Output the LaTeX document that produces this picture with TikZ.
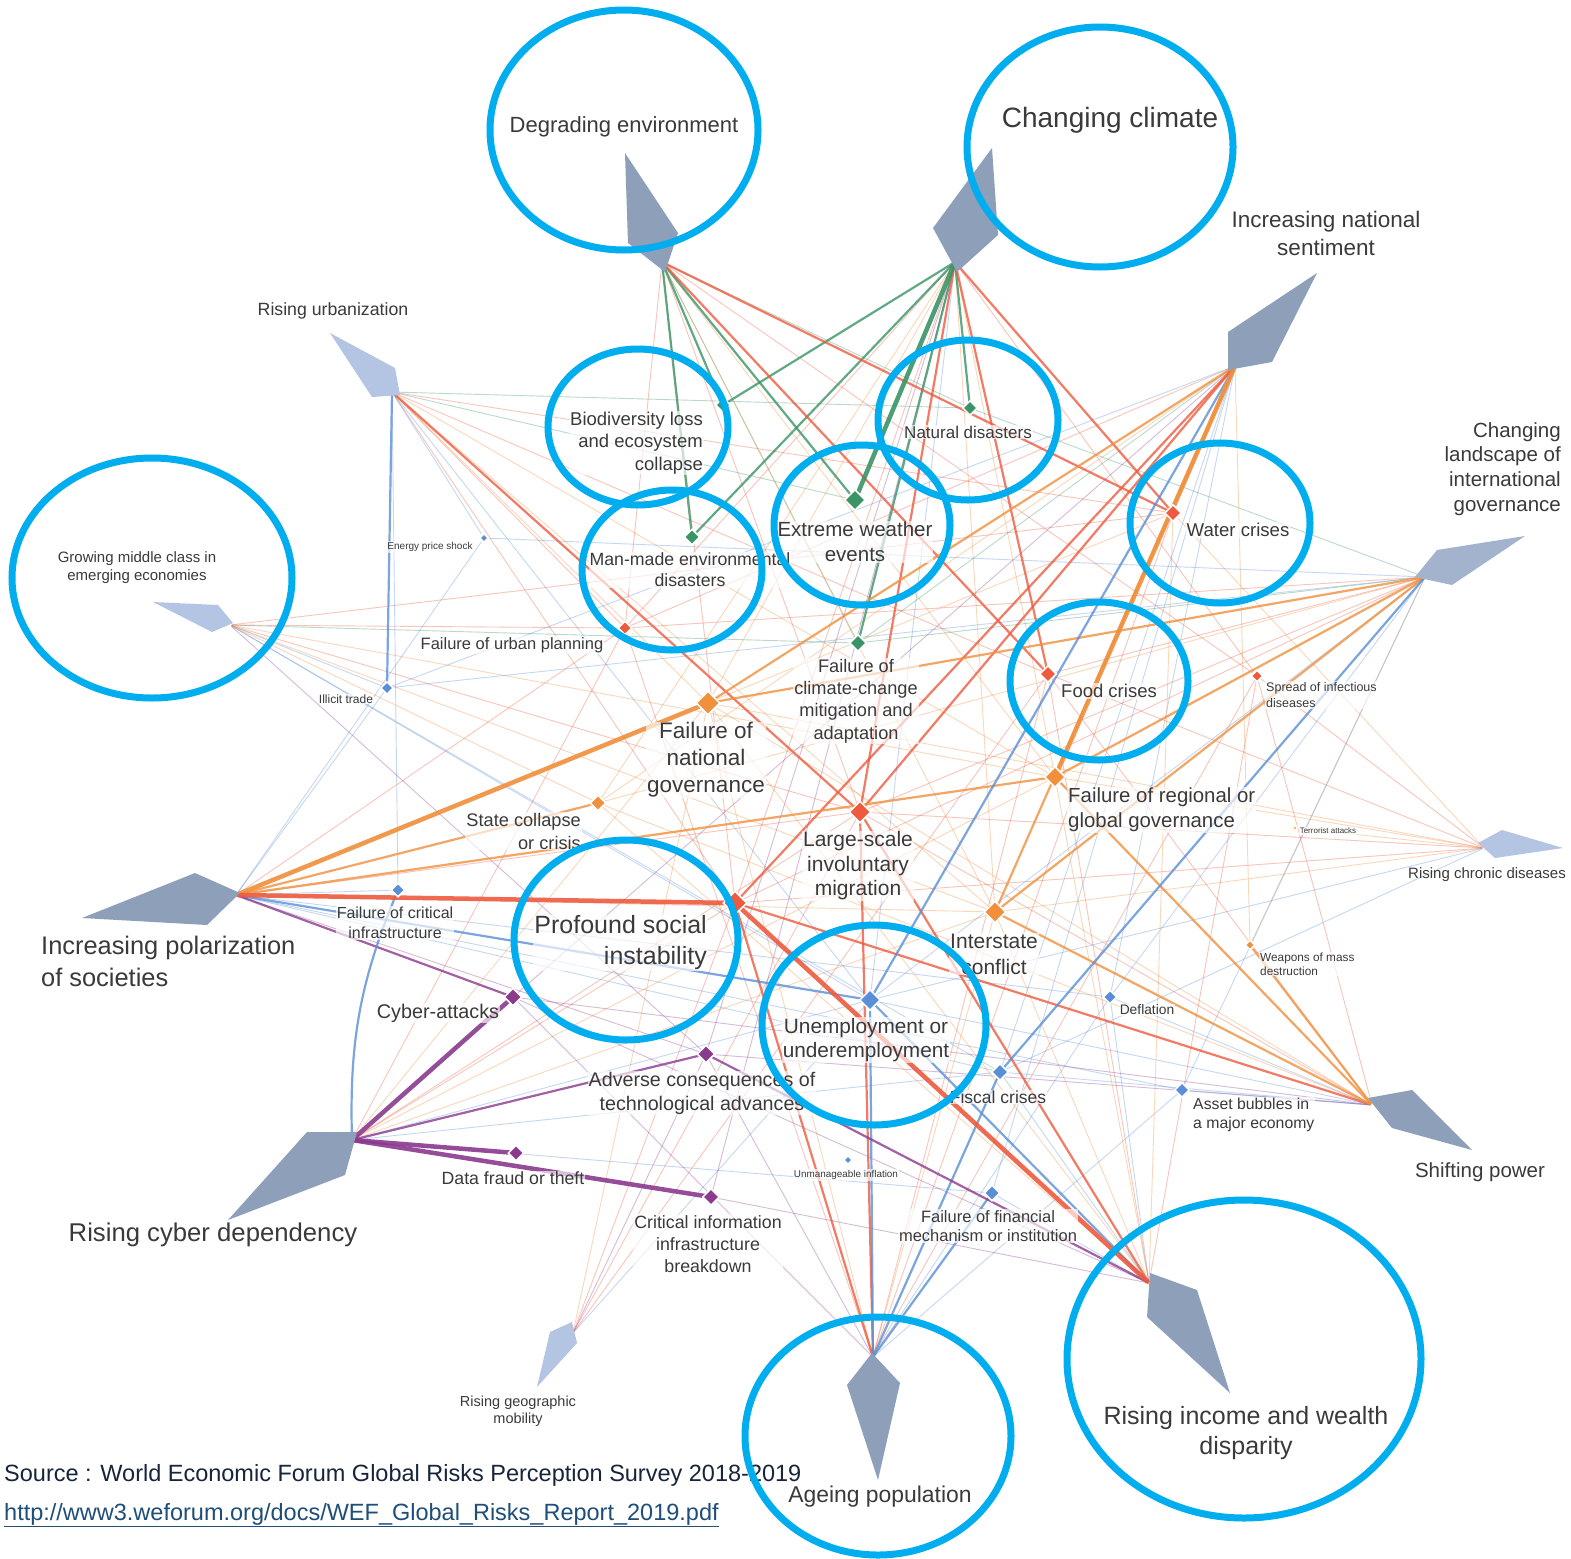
\documentclass[tikz,border=0pt]{standalone}
\usepackage{fontspec}
\setmainfont{Liberation Sans}
\usetikzlibrary{shapes.geometric}
\definecolor{cGr}{HTML}{3A9466}
\definecolor{cRd}{HTML}{EE5A3E}
\definecolor{cOr}{HTML}{F0903C}
\definecolor{cBl}{HTML}{5A8FD8}
\definecolor{cPu}{HTML}{8B3A8E}
\definecolor{cYe}{HTML}{F5C242}
\definecolor{cKite}{HTML}{8E9FBA}
\definecolor{cKiteM}{HTML}{A3B3CE}
\definecolor{cKiteL}{HTML}{B3C5E2}
\definecolor{cRing}{HTML}{00AEEF}
\definecolor{cLab}{HTML}{3A3A3A}
\definecolor{cSrc}{HTML}{17243A}
\definecolor{cUrl}{HTML}{1F4E79}
\newcommand\myfs[2]{\fontsize{#1}{#2}\selectfont}
\begin{document}
\begin{tikzpicture}[x=1pt,y=-1pt,
  dia/.style={diamond, aspect=1, inner sep=0pt, draw=white, line width=1.5pt},
  ln/.style={line cap=round, shorten <=2pt, shorten >=5pt},
  Lf/.style={ln, line width=0.9pt, opacity=.35},
  Lm/.style={ln, line width=2.2pt, opacity=.8},
  Lt/.style={ln, line width=4.5pt, opacity=.9},
  lab/.style={text=cLab, inner sep=1pt, align=center},
  halo/.style={fill=white, fill opacity=.65, text opacity=1},
  ring/.style={draw=cRing, line width=7pt}]
\fill[white] (0,0) rectangle (1571,1558);
\useasboundingbox (0,0) rectangle (1571,1558);

% ---------- trend ports ----------
\coordinate (de) at (662,262);
\coordinate (cc) at (955,262);
\coordinate (ins) at (1235,366);
\coordinate (ru) at (392,392);
\coordinate (clig) at (1425,577);
\coordinate (gmc) at (230,625);
\coordinate (rchd) at (1484,848);
\coordinate (ip) at (236,895);
\coordinate (sp) at (1372,1105);
\coordinate (rcd) at (352,1140);
\coordinate (rgm) at (573,1333);
\coordinate (ap) at (873,1357);
\coordinate (riw) at (1149,1283);

% ---------- risk positions ----------
\coordinate (bio) at (723,405);
\coordinate (nd) at (970,408);
\coordinate (ew) at (855,500);
\coordinate (mm) at (692,537);
\coordinate (wc) at (1173,513);
\coordinate (eps) at (484,538);
\coordinate (fup) at (625,628);
\coordinate (fcc) at (858,643);
\coordinate (fc) at (1048,674);
\coordinate (sid) at (1257,676);
\coordinate (it) at (387,688);
\coordinate (fng) at (708,703);
\coordinate (frg) at (1055,777);
\coordinate (sc) at (598,803);
\coordinate (lsm) at (860,812);
\coordinate (ta) at (1295,828);
\coordinate (fci) at (398,890);
\coordinate (psi) at (735,903);
\coordinate (ic) at (995,912);
\coordinate (wmd) at (1250,945);
\coordinate (un) at (870,1000);
\coordinate (defl) at (1110,997);
\coordinate (ca) at (513,997);
\coordinate (ac) at (706,1054);
\coordinate (fisc) at (1000,1072);
\coordinate (ab) at (1182,1090);
\coordinate (df) at (516,1153);
\coordinate (ui) at (848,1160);
\coordinate (cib) at (711,1197);
\coordinate (ffm) at (992,1193);

% ---------- faint connectors ----------
\foreach \a/\b/\c in {
 ru/fup/cRd, ru/wc/cRd, ru/nd/cGr, ru/ew/cGr, ru/fci/cBl, ru/un/cBl, ru/psi/cRd, ru/fng/cOr, ru/eps/cBl, ru/fc/cRd,
 ru/ic/cOr, ru/frg/cOr,
 gmc/fup/cRd, gmc/wc/cRd, gmc/fcc/cGr, gmc/it/cBl, gmc/un/cBl, gmc/ac/cPu, gmc/fisc/cBl, gmc/lsm/cRd,
 gmc/ic/cOr, gmc/frg/cOr, gmc/sc/cOr,
 rchd/sid/cRd, rchd/fc/cRd, rchd/un/cBl, rchd/fisc/cBl, rchd/ta/cOr, rchd/psi/cRd, rchd/fng/cOr, rchd/wc/cOr,
 rchd/ic/cOr, rchd/frg/cOr, rchd/lsm/cRd,
 rgm/lsm/cRd, rgm/psi/cRd, rgm/un/cBl, rgm/fng/cOr, rgm/ac/cPu, rgm/fc/cRd,
 de/lsm/cRd, de/fcc/cGr, de/fup/cRd, de/psi/cRd, de/nd/cGr, de/ic/cOr, de/frg/cOr, de/sid/cRd,
 cc/psi/cRd, cc/un/cBl, cc/cib/cPu, cc/ac/cPu, cc/ic/cOr, cc/frg/cOr, cc/fng/cOr, cc/sid/cRd, cc/fup/cRd, cc/sc/cOr,
 ins/sc/cOr, ins/wc/cRd, ins/ffm/cBl, ins/defl/cBl, ins/fcc/cGr, ins/ca/cPu, ins/fisc/cBl, ins/wmd/cOr,
 ins/fup/cRd, ins/it/cBl,
 clig/lsm/cRd, clig/fcc/cGr, clig/wmd/cOr, clig/un/cBl, clig/defl/cBl, clig/ab/cBl, clig/psi/cRd, clig/sc/cOr, clig/nd/cGr,
 clig/fup/cRd, clig/fc/cRd, clig/eps/cBl, clig/it/cBl,
 ip/ic/cOr, ip/fci/cBl, ip/fisc/cBl, ip/lsm/cRd, ip/ac/cPu, ip/ab/cBl, ip/defl/cBl,
 ip/fup/cRd, ip/wc/cOr, ip/it/cBl, ip/eps/cBl,
 sp/lsm/cRd, sp/fng/cOr, sp/ab/cBl, sp/defl/cBl, sp/ca/cPu, sp/ac/cPu, sp/un/cBl, sp/fisc/cBl,
 sp/sc/cOr, sp/fc/cRd, sp/sid/cRd,
 rcd/psi/cRd, rcd/lsm/cRd, rcd/un/cBl, rcd/ffm/cBl, rcd/ic/cOr, rcd/fisc/cBl, rcd/fng/cOr, rcd/frg/cOr, rcd/fup/cRd,
 ap/ic/cOr, ap/ab/cBl, ap/ac/cPu, ap/ca/cPu, ap/fng/cOr, ap/defl/cBl, ap/fup/cRd, ap/sid/cRd, ap/fc/cRd, ap/wc/cRd,
 riw/ic/cOr, riw/fng/cOr, riw/fisc/cBl, riw/defl/cBl, riw/frg/cOr, riw/ca/cPu, riw/cib/cPu, riw/ffm/cBl,
 riw/fc/cRd, riw/sid/cRd, riw/wc/cOr, riw/sc/cOr}
 {\draw[Lf,draw=\c] (\a) -- (\b);}

% ---------- medium connectors ----------
\foreach \a/\b/\c in {
 cc/nd/cGr, cc/mm/cGr, cc/bio/cGr, cc/fcc/cGr, de/bio/cGr, de/mm/cGr, de/ew/cGr,
 cc/wc/cRd, cc/fc/cRd, de/wc/cRd, de/fc/cRd, cc/lsm/cRd, ru/lsm/cRd, ins/psi/cRd, ins/lsm/cRd,
 ap/psi/cRd, sp/psi/cRd, riw/lsm/cRd, ap/lsm/cRd,
 ip/frg/cOr, ip/sc/cOr, ins/fng/cOr, ins/ic/cOr, clig/frg/cOr, clig/ic/cOr, clig/fng/cOr,
 sp/ic/cOr, sp/frg/cOr, sp/wmd/cOr,
 ip/un/cBl, ap/un/cBl, ap/fisc/cBl, ap/ffm/cBl, riw/un/cBl, ru/it/cBl, ins/un/cBl, clig/fisc/cBl,
 rcd/ac/cPu, ip/ca/cPu, riw/ac/cPu}
 {\draw[Lm,draw=\c] (\a) -- (\b);}
\draw[Lm,draw=cBl] (rcd) to[bend left=12] (fci);

% ---------- thick connectors ----------
\foreach \a/\b/\c in {
 cc/ew/cGr, ip/fng/cOr, ip/psi/cRd, riw/psi/cRd, ins/frg/cOr, rcd/ca/cPu, rcd/df/cPu, rcd/cib/cPu}
 {\draw[Lt,draw=\c] (\a) -- (\b);}

% ---------- kites (trends) ----------
\fill[cKite] (625,153) -- (678,233) -- (665,272) -- (628,243) -- cycle;
\fill[cKite] (992,148) -- (998,235) -- (957,272) -- (933,228) -- cycle;
\fill[cKite] (1317,273) -- (1228,332) -- (1228,370) -- (1272,362) -- cycle;
\fill[cKiteL] (330,333) -- (395,368) -- (400,395) -- (372,397) -- cycle;
\fill[cKiteM] (1525,536) -- (1437,550) -- (1415,577) -- (1452,585) -- cycle;
\fill[cKiteL] (153,602) -- (218,605) -- (233,623) -- (212,632) -- cycle;
\fill[cKiteL] (1478,843) -- (1502,830) -- (1563,848) -- (1495,858) -- cycle;
\fill[cKite] (82,918) -- (195,873) -- (240,893) -- (207,925) -- cycle;
\fill[cKite] (1368,1098) -- (1412,1090) -- (1472,1150) -- (1392,1128) -- cycle;
\fill[cKite] (307,1132) -- (357,1132) -- (345,1175) -- (228,1220) -- cycle;
\fill[cKiteL] (550,1332) -- (572,1322) -- (577,1343) -- (537,1387) -- cycle;
\fill[cKite] (872,1353) -- (900,1383) -- (878,1480) -- (847,1385) -- cycle;
\fill[cKite] (1150,1273) -- (1197,1290) -- (1230,1393) -- (1147,1317) -- cycle;

% ---------- diamonds ----------
\foreach \n/\c/\s in {bio/cGr/15, nd/cGr/15, ew/cGr/21, mm/cGr/16, wc/cRd/17, eps/cBl/9,
 fup/cRd/14, fcc/cGr/17, fc/cRd/17, sid/cRd/12, it/cBl/13, fng/cOr/24, frg/cOr/21,
 sc/cOr/16, lsm/cRd/22, ta/cYe/6, fci/cBl/14, psi/cRd/24, ic/cOr/22, wmd/cOr/10,
 un/cBl/21, defl/cBl/14, ca/cPu/18, ac/cPu/18, fisc/cBl/17, ab/cBl/15, df/cPu/16,
 ui/cBl/9, cib/cPu/17, ffm/cBl/16}
 {\node[dia, fill=\c, minimum size=\s pt] (d-\n) at (\n) {};}

% ---------- trend labels ----------
\node[lab,font=\myfs{22}{26}] (tde) at (624,127) {Degrading environment};
\node[lab,font=\myfs{28}{32}] (tcc) at (1110,120) {Changing climate};
\node[lab,font=\myfs{22.5}{28}] (tins) at (1326,233) {Increasing national\\sentiment};
\node[lab,font=\myfs{17.7}{20}] (tru) at (333,311) {Rising urbanization};
\node[lab,font=\myfs{20.5}{24.7},anchor=east,align=right] (tclig) at (1562,469) {Changing\\landscape of\\international\\governance};
\node[lab,font=\myfs{15}{18}] (tgmc) at (137,568) {Growing middle class in\\emerging economies};
\node[lab,font=\myfs{15}{17}] (trchd) at (1487,875) {Rising chronic diseases};
\node[lab,font=\myfs{25.4}{32},anchor=west,align=left] (tip) at (40,961) {Increasing polarization\\of societies};
\node[lab,font=\myfs{20.5}{22}] (tsp) at (1480,1172) {Shifting power};
\node[lab,font=\myfs{25.7}{28}] (trcd) at (213,1235) {Rising cyber dependency};
\node[lab,font=\myfs{14.5}{17}] (trgm) at (518,1411) {Rising geographic\\mobility};
\node[lab,font=\myfs{22.9}{25}] (tap) at (880,1497) {Ageing population};
\node[lab,font=\myfs{25}{30}] (triw) at (1246,1433) {Rising income and wealth\\disparity};

% ---------- risk labels ----------
\node[lab,halo,font=\myfs{18.5}{22.5},anchor=east,align=right] (lbio) at (704,443) {Biodiversity loss\\and ecosystem\\collapse};
\node[lab,halo,font=\myfs{17}{18}] (lnd) at (968,432) {Natural disasters};
\node[lab,halo,font=\myfs{20.5}{25}] (lew) at (855,542) {Extreme weather\\events};
\node[lab,halo,font=\myfs{17.7}{21}] (lmm) at (690,570) {Man-made environmental\\disasters};
\node[lab,halo,font=\myfs{18.6}{20}] (lwc) at (1238,530) {Water crises};
\node[lab,halo,font=\myfs{10}{12}] (leps) at (430,547) {Energy price shock};
\node[lab,halo,font=\myfs{16.5}{19}] (lfup) at (512,645) {Failure of urban planning};
\node[lab,halo,font=\myfs{18.2}{22.3}] (lfcc) at (856,701) {Failure of\\climate-change\\mitigation and\\adaptation};
\node[lab,halo,font=\myfs{18.5}{20}] (lfc) at (1109,691) {Food crises};
\node[lab,halo,font=\myfs{12.5}{16},anchor=west,align=left] (lsid) at (1265,695) {Spread of infectious\\diseases};
\node[lab,halo,font=\myfs{12}{12}] (lit) at (346,699) {Illicit trade};
\node[lab,halo,font=\myfs{22.5}{27}] (lfng) at (706,760) {Failure of\\national\\governance};
\node[lab,halo,font=\myfs{20.4}{25},anchor=west,align=left] (lfrg) at (1067,810) {Failure of regional or\\global governance};
\node[lab,halo,font=\myfs{18.2}{23},anchor=east,align=right] (lsc) at (582,831) {State collapse\\or crisis};
\node[lab,halo,font=\myfs{21}{24.5}] (llsm) at (858,866) {Large-scale\\involuntary\\migration};
\node[lab,halo,font=\myfs{8}{9}] (lta) at (1328,831) {Terrorist attacks};
\node[lab,halo,font=\myfs{16}{20}] (lfci) at (395,923) {Failure of critical\\infrastructure};
\node[lab,halo,font=\myfs{25}{31},anchor=east,align=right] (lpsi) at (708,943) {Profound social\\instability};
\node[lab,halo,font=\myfs{21}{26}] (lic) at (994,954) {Interstate\\conflict};
\node[lab,halo,font=\myfs{11.8}{14},anchor=west,align=left] (lwmd) at (1259,964) {Weapons of mass\\destruction};
\node[lab,halo,font=\myfs{20.8}{24}] (lun) at (866,1040) {Unemployment or\\underemployment};
\node[lab,halo,font=\myfs{13.8}{15}] (ldefl) at (1147,1010) {Deflation};
\node[lab,halo,font=\myfs{19.8}{21}] (lca) at (438,1013) {Cyber-attacks};
\node[lab,halo,font=\myfs{19.7}{24}] (lac) at (702,1093) {Adverse consequences of\\technological advances};
\node[lab,halo,font=\myfs{17.5}{19}] (lfisc) at (998,1097) {Fiscal crises};
\node[lab,halo,font=\myfs{15.8}{19},anchor=west,align=left] (lasb) at (1192,1115) {Asset bubbles in\\a major economy};
\node[lab,halo,font=\myfs{17.7}{18}] (ldf) at (513,1178) {Data fraud or theft};
\node[lab,halo,font=\myfs{9.9}{11}] (lui) at (846,1175) {Unmanageable inflation};
\node[lab,halo,font=\myfs{17.8}{22}] (lcib) at (708,1244) {Critical information\\infrastructure\\breakdown};
\node[lab,halo,font=\myfs{16.5}{19}] (lffm) at (988,1226) {Failure of financial\\mechanism or institution};

% ---------- source ----------
\node[anchor=west,inner sep=0pt,text=cSrc,font=\myfs{23.5}{26}] (src) at (4,1475) {Source : World Economic Forum Global Risks Perception Survey 2018-2019};
\node[anchor=west,inner sep=0pt,text=cUrl,font=\myfs{23.5}{26}] (url) at (4,1515) {\underline{http://www3.weforum.org/docs/WEF\_Global\_Risks\_Report\_2019.pdf}};

% ---------- highlight rings ----------
\draw[ring] (624,130) ellipse [x radius=134pt, y radius=120pt];
\draw[ring] (1100,147) ellipse [x radius=133pt, y radius=120pt];
\draw[ring] (638,427) ellipse [x radius=90pt, y radius=78pt];
\draw[ring] (968,420) ellipse [x radius=90pt, y radius=80pt];
\draw[ring] (152,578) ellipse [x radius=140pt, y radius=120pt];
\draw[ring] (672,570) ellipse [x radius=90pt, y radius=80pt];
\draw[ring] (862,525) ellipse [x radius=88pt, y radius=80pt];
\draw[ring] (1220,523) ellipse [x radius=90pt, y radius=80pt];
\draw[ring] (1099,681) ellipse [x radius=89pt, y radius=79pt];
\draw[ring] (626,940) ellipse [x radius=112pt, y radius=100pt];
\draw[ring] (874,1025) ellipse [x radius=112pt, y radius=100pt];
\draw[ring] (1244,1359) ellipse [x radius=177pt, y radius=159pt];
\draw[ring] (878,1436) ellipse [x radius=133pt, y radius=119pt];
\end{tikzpicture}
\end{document}
